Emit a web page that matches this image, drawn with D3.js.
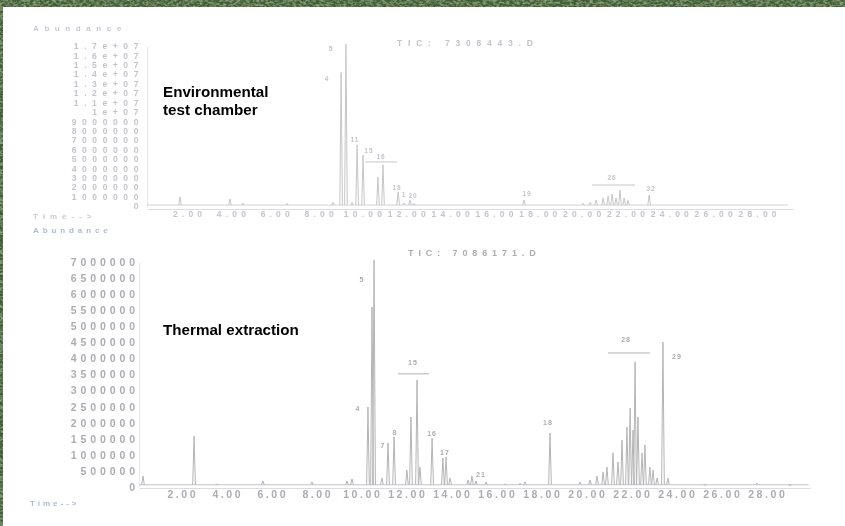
<!DOCTYPE html>
<html>
<head>
<meta charset="utf-8">
<script src="https://cdn.jsdelivr.net/npm/d3@7"></script>
<style>
  html, body { margin: 0; padding: 0; background: #fff; }
  svg { display: block; }
  text { font-family: "Liberation Sans", Arial, sans-serif; }
</style>
</head>
<body>
<div id="chart"></div>
<script>
// --- chromatogram 1: environmental test chamber (time in min, abundance) ---
var topTimes   = [1.68, 3.96, 4.55, 6.56, 8.66, 9.03, 9.25, 9.53, 9.76, 10.03, 10.71, 10.94, 11.63, 11.90, 12.17, 12.35, 17.37,
                  20.07, 20.39, 20.66, 20.98, 21.21, 21.39, 21.57, 21.75, 21.94, 22.12, 23.08];
var topHeights = [960000, 740000, 320000, 300000, 400000, 14200000, 17200000, 400000, 6500000, 5400000, 3100000, 4360000, 1500000, 320000, 640000, 300000, 640000,
                  300000, 400000, 640000, 850000, 1060000, 1270000, 850000, 1700000, 850000, 600000, 1170000];
var topLabels       = ["4", "5", "11", "15", "16", "18", "1", "20", "19", "26", "32"];
var topLabelTimes   = [8.39, 8.57, 9.66, 10.30, 10.85, 11.58, 11.90, 12.31, 17.51, 21.39, 23.17];
var topLabelLevels  = [13500000, 16600000, 7000000, 5850000, 5200000, 1900000, 1170000, 1060000, 1270000, 2980000, 1800000];
var topBracketStart = [10.12, 20.48];
var topBracketEnd   = [11.58, 22.44];
var topBracketLevel = [4680000, 2230000];
var topYTicks = [0, 1000000, 2000000, 3000000, 4000000, 5000000, 6000000, 7000000, 8000000, 9000000,
                 10000000, 11000000, 12000000, 13000000, 14000000, 15000000, 16000000, 17000000];

// --- chromatogram 2: thermal extraction ---
var botTimes   = [0.31, 2.58, 3.60, 5.64, 7.82, 9.38, 9.60, 10.31, 10.49, 10.58, 10.93, 11.20, 11.47, 12.04, 12.22, 12.49, 12.62,
                  13.16, 13.64, 13.78, 13.96, 14.76, 14.93, 15.11, 15.56, 16.41, 17.07, 17.29, 18.40,
                  19.73, 20.18, 20.49, 20.76, 20.93, 21.20, 21.42, 21.60, 21.82, 21.96, 22.09, 22.18, 22.31, 22.49, 22.62, 22.84, 22.98, 23.16,
                  23.42, 23.64, 25.29, 27.60, 29.07];
var botHeights = [340000, 1590000, 90000, 190000, 160000, 190000, 250000, 2490000, 5600000, 7060000, 280000, 1370000, 1560000, 530000, 2180000, 3330000, 620000,
                  1520000, 900000, 930000, 280000, 220000, 340000, 190000, 160000, 90000, 120000, 160000, 1680000,
                  160000, 220000, 340000, 470000, 620000, 1060000, 780000, 1460000, 1870000, 2460000, 1770000, 3890000, 2180000, 1060000, 1310000, 620000, 530000, 280000,
                  4510000, 280000, 60000, 120000, 40000];
var botLabels       = ["4", "5", "7", "8", "15", "16", "17", "21", "18", "28", "29"];
var botLabelTimes   = [9.87, 10.04, 10.98, 11.51, 12.31, 13.16, 13.73, 15.33, 18.31, 21.78, 24.04];
var botLabelLevels  = [2430000, 6440000, 1280000, 1680000, 3860000, 1650000, 1060000, 370000, 1990000, 4570000, 4040000];
var botBracketStart = [11.64, 20.98];
var botBracketEnd   = [13.02, 22.84];
var botBracketLevel = [3520000, 4170000];
var botYTicks = [0, 500000, 1000000, 1500000, 2000000, 2500000, 3000000, 3500000, 4000000,
                 4500000, 5000000, 5500000, 6000000, 6500000, 7000000];

var timeTicks = [2, 4, 6, 8, 10, 12, 14, 16, 18, 20, 22, 24, 26, 28];

var W = 845, H = 526;
var svg = d3.select("#chart").append("svg").attr("width", W).attr("height", H);

// green textured border
var defs = svg.append("defs");
var f = defs.append("filter").attr("id", "grass").attr("x", 0).attr("y", 0).attr("width", 1).attr("height", 1);
f.append("feTurbulence").attr("type", "fractalNoise").attr("baseFrequency", "0.3 0.45").attr("numOctaves", 2).attr("seed", 7).attr("result", "n");
f.append("feColorMatrix").attr("in", "n").attr("type", "matrix")
  .attr("values", "0 0 0 0 0.45  0 0 0 0 0.56  0 0 0 0 0.36  1.4 0 0 0 -0.55").attr("result", "c");
f.append("feComposite").attr("in", "c").attr("in2", "SourceGraphic").attr("operator", "in").attr("result", "c2");
var fm = f.append("feMerge");
fm.append("feMergeNode").attr("in", "SourceGraphic");
fm.append("feMergeNode").attr("in", "c2");
defs.append("filter").attr("id", "soft").append("feGaussianBlur").attr("stdDeviation", 0.45);

svg.append("rect").attr("width", W).attr("height", H).attr("fill", "#3f5e33").attr("filter", "url(#grass)");
svg.append("rect").attr("x", 3).attr("y", 7).attr("width", W - 3).attr("height", H - 7).attr("fill", "#fff");

// draws one chromatogram panel
function drawPanel(o) {
  var g = svg.append("g").attr("filter", "url(#soft)");
  var x = d3.scaleLinear().domain([2, 28]).range(o.xRange);
  var xa = d3.scaleLinear().domain([x.invert(o.x0), x.invert(o.x1)]).range([o.x0, o.x1]);
  var y = d3.scaleLinear().domain([0, o.yMax]).range(o.yRange);

  // y axis
  var ya = g.append("g").attr("transform", "translate(" + o.x0 + ",0)")
    .call(d3.axisLeft(y).tickValues(o.yTicks).tickFormat(o.yFmt).tickSize(0).tickSizeOuter(0).tickPadding(o.yPad));
  ya.select(".domain").attr("stroke", "#e8e8ec");
  ya.selectAll("text").attr("fill", o.textColor).style("font-size", o.yFont + "px")
    .style("font-weight", o.weight).style("letter-spacing", o.yLs + "px");

  // x axis
  var xg = g.append("g").attr("transform", "translate(0," + o.axisY + ")")
    .call(d3.axisBottom(xa).tickValues(timeTicks).tickFormat(d3.format(".2f")).tickSize(0).tickSizeOuter(0).tickPadding(o.xPad));
  xg.select(".domain").attr("stroke", "#dcdce0");
  xg.selectAll("text").attr("fill", o.textColor).style("font-size", o.xFont + "px")
    .style("font-weight", o.weight).style("letter-spacing", o.xLs + "px").attr("dx", o.xLs / 2);

  // baseline of the trace
  g.append("line").attr("x1", o.x0).attr("x2", x(o.traceEnd))
    .attr("y1", y(o.base)).attr("y2", y(o.base)).attr("stroke", o.lineColor).attr("stroke-width", 0.8);

  // peaks
  var line = d3.line().x(function (d) { return x(d[0]); }).y(function (d) { return y(d[1]); });
  o.times.forEach(function (t, i) {
    var pts = [[t - o.w, o.base], [t, o.heights[i]], [t + o.w, o.base]];
    g.append("path").attr("d", line(pts)).attr("fill", "none")
      .attr("stroke", o.lineColor).attr("stroke-width", 1);
  });

  // group brackets
  o.bStart.forEach(function (s, i) {
    g.append("line").attr("x1", x(s)).attr("x2", x(o.bEnd[i]))
      .attr("y1", y(o.bLevel[i])).attr("y2", y(o.bLevel[i]))
      .attr("stroke", o.lineColor).attr("stroke-width", 1);
  });

  // peak numbers
  o.labels.forEach(function (l, i) {
    g.append("text").attr("x", x(o.lTimes[i])).attr("y", y(o.lLevels[i]))
      .attr("text-anchor", "middle").attr("dominant-baseline", "middle")
      .attr("fill", o.textColor).style("font-size", o.lFont + "px").style("letter-spacing", "1px")
      .style("font-weight", o.weight).text(l);
  });

  // title
  g.append("text").attr("x", o.titleX).attr("y", o.titleY).attr("dominant-baseline", "middle")
    .attr("fill", o.textColor).style("font-size", o.tFont + "px").style("letter-spacing", o.tLs + "px")
    .style("font-weight", o.weight).text(o.title);
}

function fmtTop(v) {
  if (v < 10000000) return String(v);
  var m = v / 10000000;
  return (m === 1 ? "1" : m.toFixed(1)) + "e+07";
}

drawPanel({
  xRange: [187, 757], x0: 147, x1: 793, axisY: 209, traceEnd: 29.4,
  yMax: 17000000, yRange: [206, 46], yTicks: topYTicks, yFmt: fmtTop,
  yPad: 3, yFont: 8.5, yLs: 5.6, xPad: 1.5, xFont: 8.5, xLs: 4.2, weight: "bold",
  textColor: "#c4c4cc", lineColor: "#c6c6c6", base: 100000, w: 0.06,
  times: topTimes, heights: topHeights,
  bStart: topBracketStart, bEnd: topBracketEnd, bLevel: topBracketLevel,
  labels: topLabels, lTimes: topLabelTimes, lLevels: topLabelLevels, lFont: 6.5,
  title: "TIC: 7308443.D", titleX: 397, titleY: 44, tFont: 8.5, tLs: 5.8
});

drawPanel({
  xRange: [181, 766], x0: 139, x1: 810, axisY: 488, traceEnd: 29.9,
  yMax: 7000000, yRange: [487, 262], yTicks: botYTicks, yFmt: function (v) { return String(v); },
  yPad: 0, yFont: 10.5, yLs: 3.9, xPad: 2.5, xFont: 10.5, xLs: 2.6, weight: "bold",
  textColor: "#acacb2", lineColor: "#b4b4b4", base: 70000, w: 0.06,
  times: botTimes, heights: botHeights,
  bStart: botBracketStart, bEnd: botBracketEnd, bLevel: botBracketLevel,
  labels: botLabels, lTimes: botLabelTimes, lLevels: botLabelLevels, lFont: 7,
  title: "TIC: 7086171.D", titleX: 408, titleY: 254, tFont: 9, tLs: 4.9
});

// axis captions
var cap = svg.append("g").attr("filter", "url(#soft)").style("font-weight", "bold");
cap.append("text").attr("x", 33).attr("y", 31).attr("fill", "#c6cad2").style("font-size", "8px").style("letter-spacing", "5.6px").text("Abundance");
cap.append("text").attr("x", 33).attr("y", 219).attr("fill", "#c6cad2").style("font-size", "8px").style("letter-spacing", "5px").text("Time-->");
cap.append("text").attr("x", 33).attr("y", 233).attr("fill", "#b0bace").style("font-size", "8px").style("letter-spacing", "3.9px").text("Abundance");
cap.append("text").attr("x", 30).attr("y", 506).attr("fill", "#b0bace").style("font-size", "8px").style("letter-spacing", "3px").text("Time-->");

// sample labels
var lab = svg.append("g").style("font-weight", "bold").style("font-size", "15.2px").attr("fill", "#000");
lab.append("text").attr("x", 163).attr("y", 97).text("Environmental");
lab.append("text").attr("x", 163).attr("y", 115).text("test chamber");
lab.append("text").attr("x", 163).attr("y", 335).text("Thermal extraction");
</script>
</body>
</html>
